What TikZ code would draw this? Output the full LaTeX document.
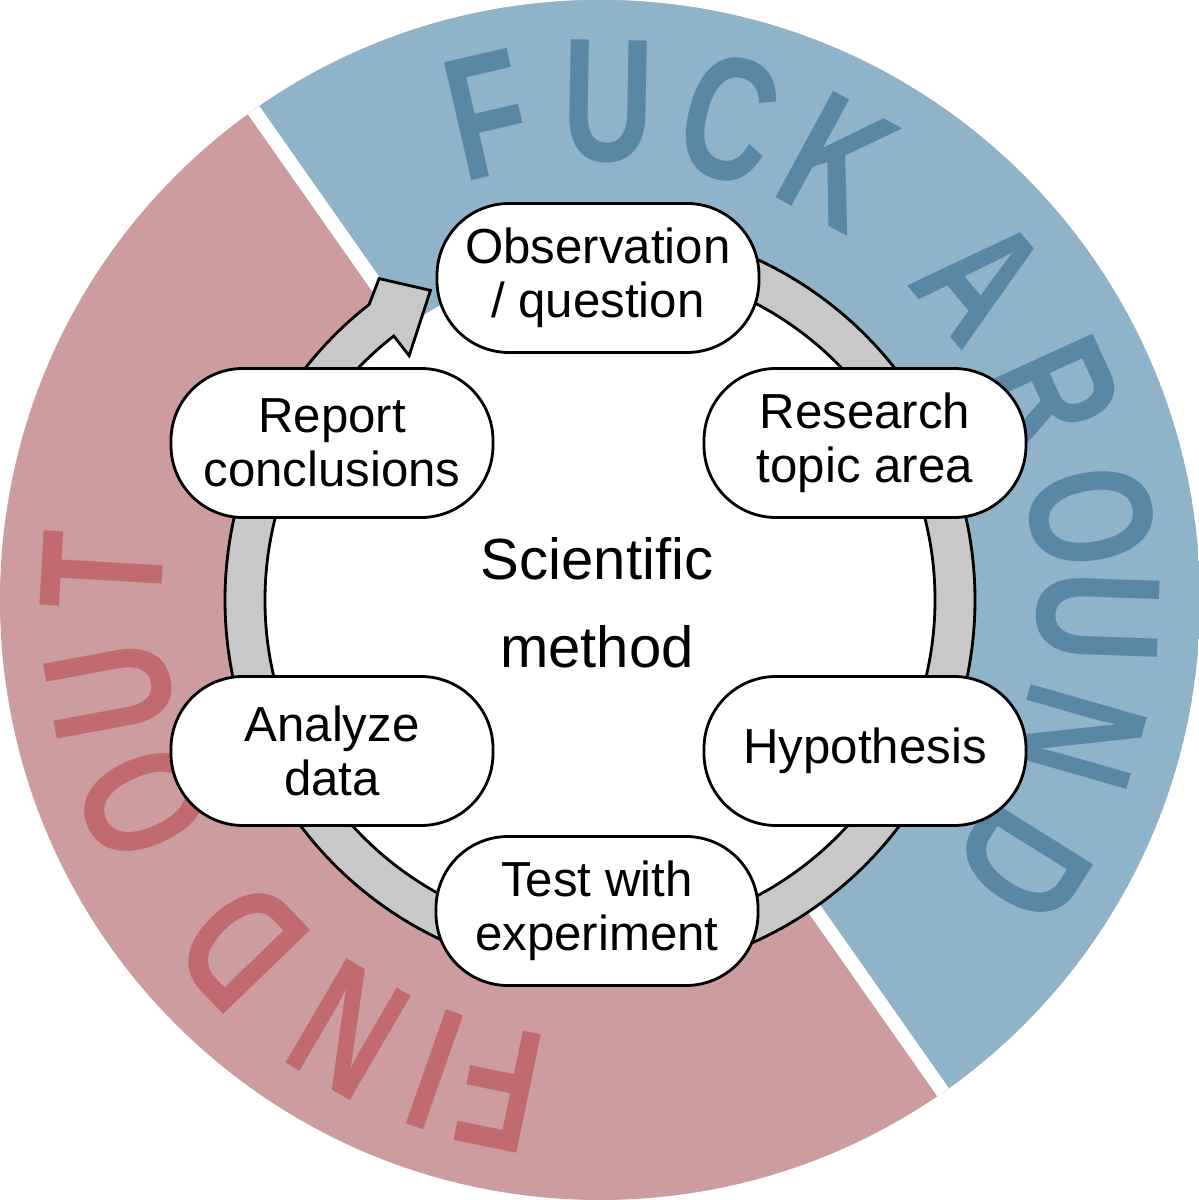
\documentclass[tikz,border=0pt]{standalone}
\usepackage{fontspec}
\setmainfont{Liberation Sans}
\usetikzlibrary{calc}
\definecolor{bfill}{HTML}{8FB4C9}
\definecolor{btext}{HTML}{5A87A3}
\definecolor{rfill}{HTML}{CD9C9E}
\definecolor{rtext}{HTML}{C16B6E}
\definecolor{ringg}{HTML}{C8C8C8}
\newcommand{\narrowch}[1]{\scalebox{0.72}[1]{#1}}
\begin{document}
\begin{tikzpicture}[
  stage/.style={draw=black,line width=0.8pt,fill=white,rounded corners=0.72cm,minimum width=3.22cm,minimum height=1.49cm,align=center,font=\fontsize{14}{15.5}\selectfont},
  big/.style={font=\fontsize{50}{50}\selectfont\bfseries,inner sep=0pt}]
\useasboundingbox (0,0) rectangle (11.99,12);
\coordinate (c) at (6,6);
\begin{scope}
\clip (c) circle (6);
\fill[rfill] (c) circle (6);
\fill[bfill] (1.18,12.83) -- (10.77,-0.83) -- (14,-2) -- (14,14) -- cycle;
\draw[white,line width=4pt] (1.18,12.83) -- (10.77,-0.83);
\end{scope}
% letters
\foreach \ch/\a in {F/103,U/89,C/75,K/61.5,A/40,R/24.5,O/9.6,U/-2,N/-16,D/-32}
  \node[big,text=btext,rotate=\a-90] at ($(c)+(\a:4.98)$) {\narrowch{\ch}};
\foreach \ch/\a in {F/258.4,I/250.7,N/239.7,D/224,O/204,U/190.5,T/176.7}
  \node[big,text=rtext,rotate=\a-90] at ($(c)+(\a:4.98)$) {\narrowch{\ch}};
% ring
\fill[white] (c) circle (3.35);
\draw[fill=ringg,line width=0.8pt] ($(c)+(90:3.75)$) arc[start angle=90,end angle=-232,radius=3.75]
  -- ($(c)+(-235.5:3.9)$) -- ($(c)+(-241.3:3.53)$) -- ($(c)+(-232:3.1)$) -- ($(c)+(-232:3.35)$)
  arc[start angle=-232,end angle=90,radius=3.35] -- cycle;
\node[font=\fontsize{16.5}{25}\selectfont,align=center] (sm) at (5.97,5.97) {Scientific\\method};
\node[stage] (obs) at (5.98,9.22) {Observation\\/ question};
\node[stage] (res) at (8.65,7.57) {Research\\topic area};
\node[stage] (hyp) at (8.65,4.49) {Hypothesis};
\node[stage] (tst) at (5.97,2.89) {Test with\\experiment};
\node[stage] (ana) at (3.32,4.49) {Analyze\\data};
\node[stage] (rep) at (3.32,7.57) {Report\\conclusions};
\end{tikzpicture}
\end{document}
